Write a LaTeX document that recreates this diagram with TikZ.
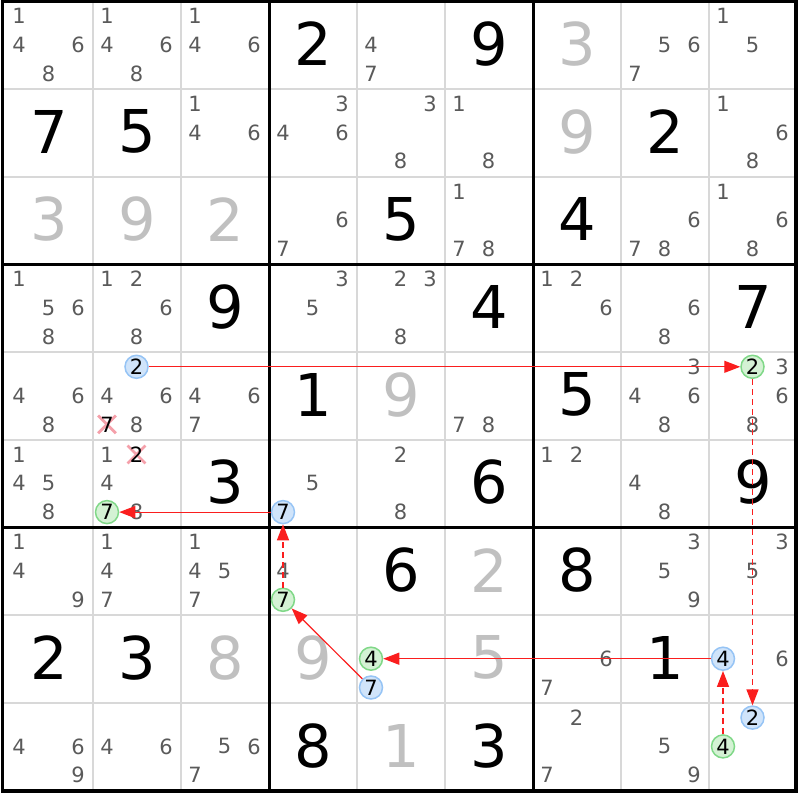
\documentclass[tikz,border=0pt]{standalone}
\usepackage{fontspec}
\setmainfont{DejaVu Sans}
\usetikzlibrary{arrows.meta, shapes.misc}
\definecolor{candgray}{RGB}{90, 90, 90}
\definecolor{givengray}{RGB}{192, 192, 192}
\definecolor{gridgray}{RGB}{216, 216, 216}
\definecolor{chainred}{RGB}{250, 30, 30}
\definecolor{bluefill}{RGB}{208, 228, 250}
\definecolor{blueline}{RGB}{150, 196, 245}
\definecolor{greenfill}{RGB}{212, 242, 212}
\definecolor{greenline}{RGB}{128, 216, 136}
\definecolor{crosspink}{RGB}{245, 160, 170}

\begin{document}
\begin{tikzpicture}[
    x=1pt, y=-1pt,
    cand/.style={text=candgray, font=\fontsize{21}{21}\selectfont, inner sep=0pt},
    solved/.style={text=black, font=\fontsize{59}{59}\selectfont, inner sep=0pt},
    given/.style={solved, text=givengray},
    oncand/.style={circle, cand, text=black, minimum size=23pt, line width=1.5pt},
    bluecand/.style={oncand, draw=blueline, fill=bluefill},
    greencand/.style={oncand, draw=greenline, fill=greenfill},
    struck/.style={cross out, draw=crosspink, line width=2.8pt, minimum size=15pt, inner sep=0pt},
    strong/.style={-{Triangle[length=16pt, width=12pt]}, chainred, line width=1.2pt},
    weak/.style={strong, line width=1.5pt, dash pattern=on 6pt off 4pt}
]
\useasboundingbox (0,0) rectangle (800,800);

% grid
\foreach \k in {1,2,4,5,7,8} {
    \draw[gridgray, line width=2pt] ({5+88*\k},1.5) -- ({5+88*\k},790.8);
    \draw[gridgray, line width=2pt] (2.5,{1.5+87.7*\k}) -- (796,{1.5+87.7*\k});
}
\foreach \k in {3,6} {
    \draw[line width=3pt] ({5+88*\k},1.5) -- ({5+88*\k},790.8);
    \draw[line width=3pt] (2.5,{1.5+87.7*\k}) -- (796,{1.5+87.7*\k});
}
\draw[line width=3.5pt] (2.5,1.5) rectangle (796,790.8);

% cell centres and candidate spots
\foreach \r in {0,...,8}
    \foreach \c in {0,...,8} {
        \coordinate (m\r\c) at ({5+88*\c+44}, {1.5+87.7*\r+42.5});
        \foreach \d in {1,...,9}
            \coordinate (p\r\c\d) at ({5+88*\c+14+29.5*mod(\d-1,3)}, {1.5+87.7*\r+14.5+28.8*int((\d-1)/3)});
    }

\foreach \r/\c/\d in {0/3/2, 0/5/9, 1/0/7, 1/1/5, 1/7/2, 2/4/5, 2/6/4, 3/2/9, 3/5/4, 3/8/7,
    4/3/1, 4/6/5, 5/2/3, 5/5/6, 5/8/9, 6/4/6, 6/6/8, 7/0/2, 7/1/3, 7/7/1, 8/3/8, 8/5/3}
    \node[solved] (s\r\c) at (m\r\c) {\d};

\foreach \r/\c/\d in {0/6/3, 1/6/9, 2/0/3, 2/1/9, 2/2/2, 4/4/9, 6/5/2, 7/2/8, 7/3/9, 7/5/5, 8/4/1}
    \node[given] (v\r\c) at (m\r\c) {\d};

\foreach \r/\c/\ds in {0/0/{1,4,6,8}, 0/1/{1,4,6,8}, 0/2/{1,4,6}, 0/4/{4,7}, 0/7/{5,6,7}, 0/8/{1,5},
    1/2/{1,4,6}, 1/3/{3,4,6}, 1/4/{3,8}, 1/5/{1,8}, 1/8/{1,6,8},
    2/3/{6,7}, 2/5/{1,7,8}, 2/7/{6,7,8}, 2/8/{1,6,8},
    3/0/{1,5,6,8}, 3/1/{1,2,6,8}, 3/3/{3,5}, 3/4/{2,3,8}, 3/6/{1,2,6}, 3/7/{6,8},
    4/0/{4,6,8}, 4/1/{4,6,8}, 4/2/{4,6,7}, 4/5/{7,8}, 4/7/{3,4,6,8}, 4/8/{3,6,8},
    5/0/{1,4,5,8}, 5/1/{1,4,8}, 5/3/{5}, 5/4/{2,8}, 5/6/{1,2}, 5/7/{4,8},
    6/0/{1,4,9}, 6/1/{1,4,7}, 6/2/{1,4,5,7}, 6/3/{4}, 6/7/{3,5,9}, 6/8/{3,5},
    7/6/{6,7}, 7/8/{6},
    8/0/{4,6,9}, 8/1/{4,6}, 8/2/{5,6,7}, 8/6/{2,7}, 8/7/{5,9}}
    \foreach \d in \ds
        \node[cand] (c\r\c\d) at (p\r\c\d) {\d};

% eliminated candidates
\node[struck] (x417) at (p417) {};
\node[cand, text=black] (k417) at (p417) {7};
\node[struck] (x512) at (p512) {};
\node[cand, text=black] (k512) at (p512) {2};

% chain
\node[bluecand] (b412) at (p412) {2};
\node[greencand] (g482) at (p482) {2};
\node[bluecand] (b882) at (p882) {2};
\node[greencand] (g884) at (p884) {4};
\node[bluecand] (b784) at (p784) {4};
\node[greencand] (g744) at (p744) {4};
\node[bluecand] (b747) at (p747) {7};
\node[greencand] (g637) at (p637) {7};
\node[bluecand] (b537) at (p537) {7};
\node[greencand] (g517) at (p517) {7};

\draw[strong] (b412) -- (g482);
\draw[weak] (g482) -- (b882);
\draw[weak] (g884) -- (b784);
\draw[strong] (b784) -- (g744);
\draw[strong] (b747) -- (g637);
\draw[weak] (g637) -- (b537);
\draw[strong] (b537) -- (g517);

\end{tikzpicture}
\end{document}
